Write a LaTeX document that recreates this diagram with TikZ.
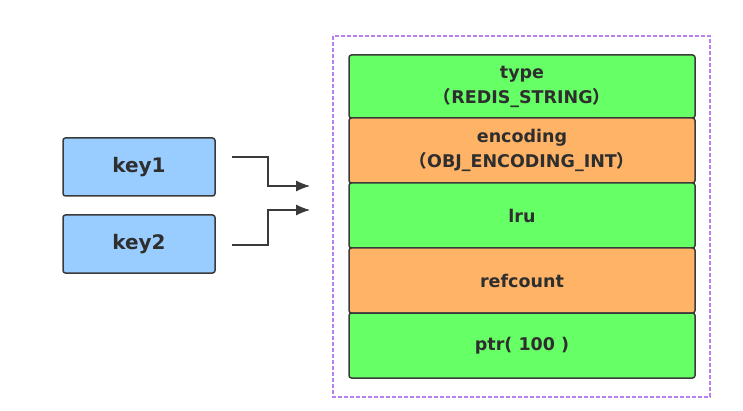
\documentclass[tikz,border=0pt]{standalone}
\usepackage{fontspec}
\setmainfont{DejaVu Sans}
\newfontfamily\cjk{Noto Sans CJK SC}
\usetikzlibrary{arrows.meta}
\definecolor{fgreen}{HTML}{66FF66}
\definecolor{forange}{HTML}{FFB366}
\definecolor{fblue}{HTML}{99CCFF}
\definecolor{fpurple}{HTML}{B77FF0}
\definecolor{edge}{HTML}{3A3A3A}
\definecolor{ink}{HTML}{2E2E2E}
\begin{document}
\begin{tikzpicture}[x=1pt,y=-1pt,
  cell/.style={draw=edge, line width=1.5pt, rounded corners=2.5pt, minimum width=346pt, minimum height=65pt, inner sep=0pt, align=center, font=\fontsize{17.5}{25}\selectfont\bfseries, text=ink},
  keybox/.style={draw=edge, line width=1.5pt, fill=fblue, rounded corners=2.5pt, minimum width=152pt, minimum height=58pt, inner sep=0pt, font=\fontsize{20}{23}\selectfont\bfseries, text=ink},
  conn/.style={draw=edge, line width=1.1pt, -{Latex[length=14pt,width=11pt]}}
]
\useasboundingbox (0,0) rectangle (743,411);
\draw[fpurple, dash pattern=on 4pt off 2pt, line width=1.3pt] (333,36) rectangle (710,397);
\node[cell, fill=fgreen, minimum height=63pt] (type) at (522,86.5) {type\\{\cjk\bfseries （}REDIS\_STRING{\cjk\bfseries ）}};
\node[cell, fill=forange] (enc) at (522,150.5) {encoding\\{\cjk\bfseries （}OBJ\_ENCODING\_INT{\cjk\bfseries ）}};
\node[cell, fill=fgreen] (lru) at (522,215.5) {lru};
\node[cell, fill=forange] (ref) at (522,280.5) {refcount};
\node[cell, fill=fgreen] (ptr) at (522,345.5) {ptr( 100 )};
\node[keybox] (k1) at (139,167) {key1};
\node[keybox] (k2) at (139,244) {key2};
\coordinate (s1) at (232,157);
\coordinate (e1) at (310,186);
\coordinate (s2) at (232,245);
\coordinate (e2) at (310,210);
\draw[conn] (s1) -- (268,157) |- (e1);
\draw[conn] (s2) -- (268,245) |- (e2);
\end{tikzpicture}
\end{document}
